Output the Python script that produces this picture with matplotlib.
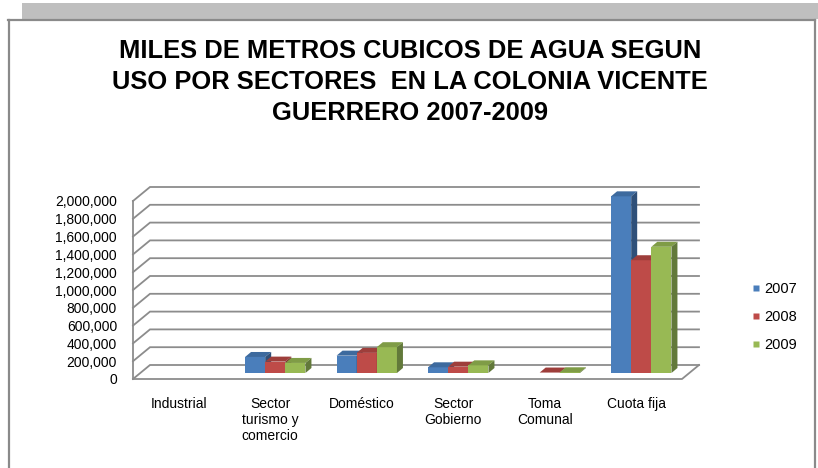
import matplotlib
matplotlib.use("Agg")
import matplotlib.pyplot as plt
from matplotlib.patches import Polygon, Rectangle
from matplotlib.lines import Line2D
import numpy as np

plt.rcParams['font.family'] = ['Liberation Sans', 'DejaVu Sans']

# ---------------- data ----------------
categories = ["Industrial", "Sector\nturismo y\ncomercio", "Doméstico",
              "Sector\nGobierno", "Toma\nComunal", "Cuota fija"]
years = ["2007", "2008", "2009"]
v2007 = [0, 180000, 195000, 64000, 0, 1985000]
v2008 = [0, 128000, 226000, 71000, 5000, 1267000]
v2009 = [0, 113000, 290000, 86000, 8000, 1418000]
series = [v2007, v2008, v2009]
yticks = [0, 200000, 400000, 600000, 800000, 1000000, 1200000,
          1400000, 1600000, 1800000, 2000000]
ytick_labels = ["0", "200,000", "400,000", "600,000", "800,000", "1,000,000",
                "1,200,000", "1,400,000", "1,600,000", "1,800,000", "2,000,000"]

front_colors = ["#4a7ebb", "#be4b48", "#98b954"]
top_colors = ["#3d6a9e", "#9e3e3b", "#7f9c46"]
side_colors = ["#2f5079", "#7f302e", "#62793a"]

W, H = 818, 468
DPI = 100
fig = plt.figure(figsize=(W / DPI, H / DPI), dpi=DPI)
fig.patch.set_facecolor("white")

def fx(px):
    return px / W

def fy(py):
    return 1 - py / H

# ---------------- frame ----------------
fig.add_artist(Rectangle((fx(22), fy(19)), fx(818) - fx(22), fy(3) - fy(19),
                         transform=fig.transFigure, facecolor="#bfbfbf",
                         edgecolor="none"))
fig.add_artist(Line2D([fx(8), fx(815)], [fy(20), fy(20)], transform=fig.transFigure,
                      color="#8a8a8a", lw=1.6))
fig.add_artist(Line2D([fx(8.5), fx(8.5)], [fy(20), fy(468)], transform=fig.transFigure,
                      color="#8a8a8a", lw=1.6))
fig.add_artist(Line2D([fx(815), fx(815)], [fy(20), fy(468)], transform=fig.transFigure,
                      color="#8a8a8a", lw=1.6))

# ---------------- title ----------------
title_lines = ["MILES DE METROS CUBICOS DE AGUA SEGUN",
               "USO POR SECTORES  EN LA COLONIA VICENTE",
               "GUERRERO 2007-2009"]
fig.text(fx(410), fy(82), "\n".join(title_lines), ha="center", va="center",
         fontsize=18.4, fontweight="bold", linespacing=1.37, color="black")

# ---------------- axes ----------------
x_left, x_right = 133, 682
y_bot, y_top = 379, 201
ax = fig.add_axes([fx(x_left), fy(y_bot), (x_right - x_left) / W, (y_bot - y_top) / H])
ax.set_xlim(-0.5, len(categories) - 0.5)
ax.set_ylim(0, 2000000)
ax.set_facecolor("none")
for s in ax.spines.values():
    s.set_visible(False)

# pixel -> data scale
p0 = ax.transData.transform((0, 0))
p1 = ax.transData.transform((1, 1))
sx = p1[0] - p0[0]
sy = p1[1] - p0[1]

def dxd(px):
    return px / sx

def dyd(px):
    return px / sy

grid_c = "#8c8c8c"
glw = 1.3
DX, DY = dxd(17), dyd(14)
xmin, xmax = -0.5, len(categories) - 0.5

for t in yticks:
    ax.plot([xmin, xmin + DX, xmax + DX], [t, t + DY, t + DY], color=grid_c,
            lw=glw, clip_on=False, zorder=1, solid_joinstyle="miter")
ax.plot([xmin, xmin], [0, yticks[-1]], color=grid_c, lw=glw, clip_on=False, zorder=1)
ax.plot([xmin, xmax, xmax + DX], [0, 0, DY], color=grid_c, lw=glw, clip_on=False, zorder=1)

ax.set_yticks(yticks)
ax.set_yticklabels(ytick_labels)
ax.set_xticks(np.arange(len(categories)))
ax.set_xticklabels(categories, linespacing=1.2)
ax.tick_params(axis="both", length=0, labelsize=10, colors="black")
ax.tick_params(axis="y", pad=11.5)
ax.tick_params(axis="x", pad=13)
for lab in ax.get_xticklabels():
    lab.set_verticalalignment("top")

# ---------------- bars (pseudo 3D) ----------------
bw = 0.22
offx, offy = dxd(5), dyd(6)
bdx, bdy = dxd(6), dyd(5)
n = len(series)
for i in range(len(categories)):
    for j in range(n):
        v = series[j][i]
        if v <= 0:
            continue
        x0 = i - n * bw / 2 + j * bw + offx
        b = offy
        ax.bar(x0, v, width=bw, bottom=b, align="edge", color=front_colors[j],
               edgecolor="none", clip_on=False, zorder=3)
        top = Polygon([(x0, b + v), (x0 + bw, b + v), (x0 + bw + bdx, b + v + bdy),
                       (x0 + bdx, b + v + bdy)], closed=True, facecolor=top_colors[j],
                      edgecolor="none", clip_on=False, zorder=3)
        side = Polygon([(x0 + bw, b), (x0 + bw + bdx, b + bdy), (x0 + bw + bdx, b + v + bdy),
                        (x0 + bw, b + v)], closed=True, facecolor=side_colors[j],
                       edgecolor="none", clip_on=False, zorder=3)
        ax.add_patch(top)
        ax.add_patch(side)

# ---------------- legend ----------------
handles = [Line2D([], [], marker="s", linestyle="none", markersize=5,
                  markerfacecolor=c, markeredgecolor="none") for c in front_colors]
fig.legend(handles, years, loc="center left", bbox_to_anchor=(fx(752), fy(317)),
           frameon=False, fontsize=10.5, labelspacing=0.95, handlelength=0.6,
           handletextpad=0.25, borderaxespad=0, borderpad=0)

fig.savefig("out.png", dpi=DPI)
